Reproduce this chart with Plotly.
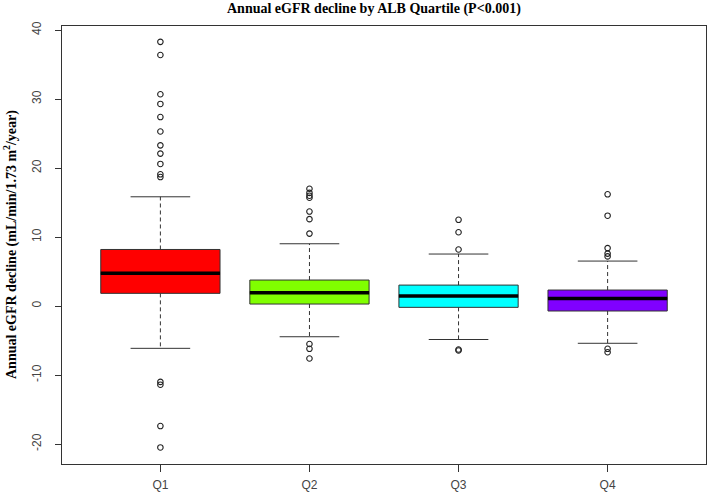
import plotly.graph_objects as go

# ---- data ----
categories = ["Q1", "Q2", "Q3", "Q4"]
colors = ["#FF0000", "#80FF00", "#00FFFF", "#8000FF"]
q1_vals = [1.84, 0.29, -0.19, -0.72]
median_vals = [4.74, 1.93, 1.45, 1.11]
q3_vals = [8.20, 3.77, 3.04, 2.32]
lower_whisker = [-6.13, -4.45, -4.85, -5.40]
upper_whisker = [15.84, 9.03, 7.54, 6.52]
outliers = [
    [38.3, 36.4, 30.7, 29.3, 27.4, 25.3, 23.3, 22.1, 20.6, 19.1, 18.7,
     -11.0, -11.4, -17.4, -20.5],
    [17.0, 16.4, 16.0, 15.7, 13.7, 12.6, 10.5, -5.5, -6.2, -7.6],
    [12.5, 10.7, 8.2, -6.3, -6.45],
    [16.2, 13.1, 8.4, 7.6, 7.2, -6.2, -6.7],
]
y_ticks = [-20, -10, 0, 10, 20, 30, 40]
title_text = "Annual eGFR decline by ALB Quartile (P&lt;0.001)"
y_title = "Annual eGFR decline (mL/min/1.73 m<sup>2</sup>/year)"

BOXW = 0.8
CAPW = 0.4
x_pos = list(range(1, len(categories) + 1))

fig = go.Figure()

for i, cat in enumerate(categories):
    x = x_pos[i]
    # whiskers (dashed)
    fig.add_trace(go.Scatter(
        x=[x, x, None, x, x],
        y=[q3_vals[i], upper_whisker[i], None, q1_vals[i], lower_whisker[i]],
        mode="lines", line=dict(color="#333333", width=1, dash="4px,3px"),
        hoverinfo="skip"))
    # caps
    fig.add_trace(go.Scatter(
        x=[x - CAPW / 2, x + CAPW / 2, None, x - CAPW / 2, x + CAPW / 2],
        y=[upper_whisker[i], upper_whisker[i], None, lower_whisker[i], lower_whisker[i]],
        mode="lines", line=dict(color="#333333", width=1),
        hoverinfo="skip"))
    # box
    fig.add_trace(go.Box(
        x=[x], q1=[q1_vals[i]], median=[median_vals[i]], q3=[q3_vals[i]],
        lowerfence=[q1_vals[i]], upperfence=[q3_vals[i]],
        width=BOXW, fillcolor=colors[i], whiskerwidth=0,
        line=dict(color="#333333", width=1), boxpoints=False, name=cat))
    # thick median
    fig.add_trace(go.Scatter(
        x=[x - BOXW / 2, x + BOXW / 2], y=[median_vals[i], median_vals[i]],
        mode="lines", line=dict(color="#000000", width=3.5), hoverinfo="skip"))
    # outliers
    fig.add_trace(go.Scatter(
        x=[x] * len(outliers[i]), y=outliers[i], mode="markers",
        marker=dict(symbol="circle-open", size=5.5, color="#222222",
                    line=dict(width=1.1, color="#222222")),
        hoverinfo="skip"))

fig.update_layout(
    width=708, height=493,
    margin=dict(l=62, r=2, t=26, b=29, autoexpand=False),
    paper_bgcolor="white", plot_bgcolor="white",
    showlegend=False,
    font=dict(family="Liberation Sans, Arial, sans-serif", size=12, color="#444444"),
    xaxis=dict(range=[0.34, 4.66], tickvals=x_pos, ticktext=categories,
               automargin=False,
               ticks="outside", ticklen=7, tickcolor="#333333",
               ticklabelstandoff=2,
               showline=True, mirror=True, linecolor="#333333", linewidth=1.3,
               showgrid=False, zeroline=False,
               tickfont=dict(size=12, color="#444444")),
    yaxis=dict(range=[-22.9, 40.6], tickvals=y_ticks,
               ticktext=[str(v) for v in y_ticks], tickangle=-90,
               automargin=False,
               ticks="outside", ticklen=6, tickcolor="#333333",
               ticklabelstandoff=9,
               showline=True, mirror=True, linecolor="#333333", linewidth=1.3,
               showgrid=False, zeroline=False,
               tickfont=dict(size=12, color="#444444")),
    annotations=[
        dict(text="<b>" + title_text + "</b>", xref="paper", yref="paper",
             x=(374 - 62) / 644, y=1, yshift=17, xanchor="center", yanchor="middle",
             showarrow=False,
             font=dict(family="Liberation Serif, Times New Roman, serif", size=14, color="#000000")),
        dict(text="<b>" + y_title + "</b>", xref="paper", yref="paper",
             x=0, xshift=-52, y=0.5, textangle=-90, xanchor="center", yanchor="middle",
             showarrow=False,
             font=dict(family="Liberation Serif, Times New Roman, serif", size=14, color="#000000")),
    ],
)

# remove the browser's default 8px body margin so the figure sits at the page corner
fig.write_html("out.html", config={"displayModeBar": False},
               post_script="document.body.style.margin='0px';")
